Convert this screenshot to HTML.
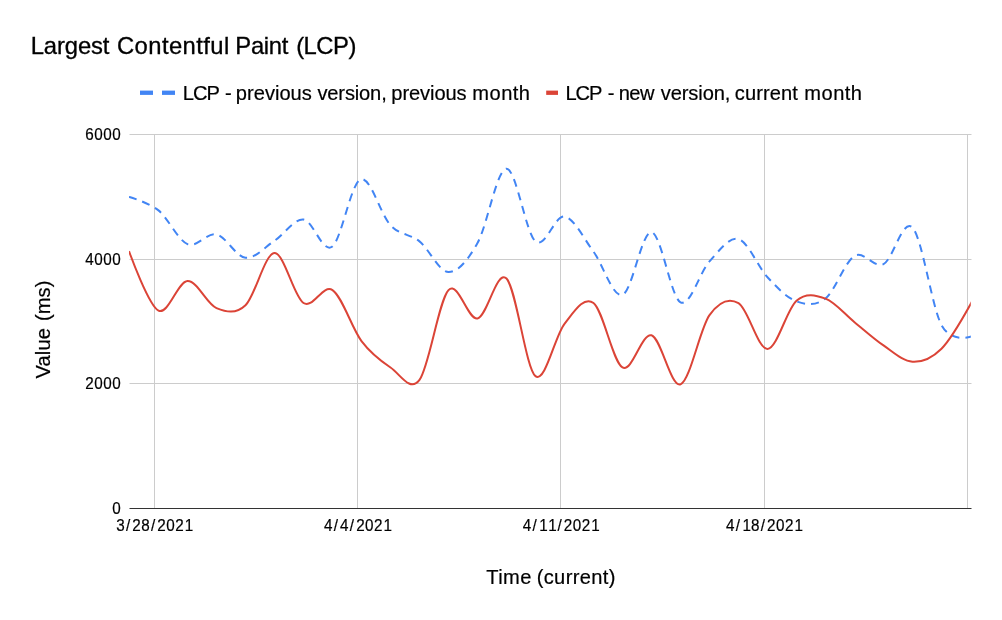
<!DOCTYPE html>
<html><head><meta charset="utf-8"><title>Largest Contentful Paint (LCP)</title>
<style>
html,body{margin:0;padding:0;background:#fff;}
body{width:1002px;height:620px;overflow:hidden;font-family:"Liberation Sans",sans-serif;}
svg{display:block;font-family:"Liberation Sans",sans-serif;will-change:transform;}
text{fill:#000;white-space:pre;stroke:#000;stroke-width:0.2px;}
text.t{stroke-width:0.32px;}
</style></head><body>
<svg width="1002" height="620" viewBox="0 0 1002 620">
<defs><clipPath id="c"><rect x="129" y="134" width="841.8" height="375"/></clipPath></defs>
<rect width="1002" height="620" fill="#fff"/>
<rect x="129.5" y="134" width="842" height="1" fill="#ccc"/>
<rect x="129.5" y="259" width="842" height="1" fill="#ccc"/>
<rect x="129.5" y="383" width="842" height="1" fill="#ccc"/>
<rect x="154" y="134" width="1" height="374" fill="#ccc"/>
<rect x="357" y="134" width="1" height="374" fill="#ccc"/>
<rect x="560" y="134" width="1" height="374" fill="#ccc"/>
<rect x="764" y="134" width="1" height="374" fill="#ccc"/>
<rect x="967" y="134" width="1" height="374" fill="#ccc"/>
<g clip-path="url(#c)"><path d="M129.00,196.88 L129.50,197.02C129.50,197.02 148.83,202.54 158.50,210.39C168.17,218.24 177.83,240.12 187.50,244.12C197.17,248.13 206.83,232.16 216.50,234.42C226.17,236.69 235.83,256.67 245.50,257.72C255.17,258.77 264.83,247.10 274.50,240.74C284.17,234.38 293.92,218.58 303.50,219.58C313.08,220.59 322.48,253.47 332.00,246.77C341.52,240.06 350.85,182.92 360.60,179.34C370.35,175.75 380.68,214.89 390.50,225.23C400.32,235.57 409.83,233.57 419.50,241.37C429.17,249.16 438.83,271.71 448.50,271.99C458.17,272.26 467.83,260.22 477.50,243.01C487.17,225.80 496.83,168.97 506.50,168.71C516.17,168.45 525.83,233.50 535.50,241.46C545.17,249.42 554.83,214.79 564.50,216.49C574.17,218.19 583.83,238.61 593.50,251.67C603.17,264.73 612.83,298.12 622.50,294.85C632.17,291.59 641.83,230.84 651.50,232.09C661.17,233.33 670.83,297.42 680.50,302.31C690.17,307.19 699.83,271.92 709.50,261.40C719.17,250.87 728.83,236.51 738.50,239.15C748.17,241.78 757.83,266.84 767.50,277.21C777.17,287.58 786.83,297.84 796.50,301.38C806.17,304.92 815.83,306.01 825.50,298.44C835.17,290.87 844.83,261.68 854.50,255.95C864.17,250.21 873.83,268.77 883.50,264.04C893.17,259.31 902.83,217.39 912.50,227.57C922.17,237.74 931.83,306.89 941.50,325.09C951.17,343.29 970.50,336.75 970.50,336.75L973.50,335.73" fill="none" stroke="#4285f4" stroke-width="2" stroke-dasharray="8.018 6.013" stroke-dashoffset="0"/>
<path d="M129.00,251.20 L129.50,252.57C129.50,252.57 148.83,305.83 158.50,310.58C168.17,315.32 177.83,281.47 187.50,281.06C197.17,280.65 206.83,304.07 216.50,308.09C226.17,312.12 235.83,314.38 245.50,305.22C255.17,296.06 264.83,253.49 274.50,253.12C284.17,252.74 293.83,296.81 303.50,302.97C313.17,309.13 322.83,283.74 332.50,290.09C342.17,296.45 351.83,328.21 361.50,341.11C371.17,354.00 380.83,361.01 390.50,367.47C400.17,373.93 409.83,392.77 419.50,379.88C429.17,366.99 438.83,300.38 448.50,290.15C458.17,279.93 467.83,320.48 477.50,318.53C487.17,316.57 496.83,268.85 506.50,278.45C516.17,288.04 525.83,368.56 535.50,376.11C545.17,383.67 554.83,335.97 564.50,323.78C574.17,311.59 583.83,295.70 593.50,302.98C603.17,310.26 612.83,362.08 622.50,367.46C632.17,372.85 641.83,332.48 651.50,335.29C661.17,338.10 670.83,387.71 680.50,384.34C690.17,380.98 699.83,328.61 709.50,315.08C719.17,301.55 728.83,297.55 738.50,303.18C748.17,308.82 757.83,349.30 767.50,348.89C777.17,348.48 786.83,309.08 796.50,300.70C806.17,292.33 815.83,295.06 825.50,298.64C835.17,302.21 844.83,314.36 854.50,322.16C864.17,329.95 873.83,338.82 883.50,345.41C893.17,352.00 902.83,361.16 912.50,361.71C922.17,362.25 931.83,358.24 941.50,348.67C951.17,339.09 970.50,304.27 970.50,304.27L973.50,298.87" fill="none" stroke="#db4437" stroke-width="2"/></g>
<rect x="129.5" y="508" width="842" height="1" fill="#333"/>
<text class="t" x="30.75" y="53.75" font-size="23.8" textLength="78.65" lengthAdjust="spacing">Largest</text>
<text class="t" x="117.00" y="53.75" font-size="23.8" textLength="112.20" lengthAdjust="spacing">Contentful</text>
<text class="t" x="235.35" y="53.75" font-size="23.8" textLength="53.05" lengthAdjust="spacing">Paint</text>
<text class="t" x="296.15" y="53.75" font-size="23.8" textLength="60.25" lengthAdjust="spacing">(LCP)</text>
<text x="182.80" y="100" font-size="20.1" textLength="37.20" lengthAdjust="spacing">LCP</text>
<text x="225.05" y="100" font-size="20.1">-</text>
<text x="235.85" y="100" font-size="20.1" textLength="76.00" lengthAdjust="spacing">previous</text>
<text x="317.40" y="100" font-size="20.1" textLength="69.35" lengthAdjust="spacing">version,</text>
<text x="391.35" y="100" font-size="20.1" textLength="75.30" lengthAdjust="spacing">previous</text>
<text x="472.35" y="100" font-size="20.1" textLength="57.60" lengthAdjust="spacing">month</text>
<text x="565.40" y="100" font-size="20.1" textLength="37.00" lengthAdjust="spacing">LCP</text>
<text x="607.85" y="100" font-size="20.1">-</text>
<text x="618.65" y="100" font-size="20.1" textLength="35.75" lengthAdjust="spacing">new</text>
<text x="660.70" y="100" font-size="20.1" textLength="69.75" lengthAdjust="spacing">version,</text>
<text x="734.85" y="100" font-size="20.1" textLength="63.05" lengthAdjust="spacing">current</text>
<text x="804.35" y="100" font-size="20.1" textLength="57.70" lengthAdjust="spacing">month</text>
<text x="486.25" y="583.7" font-size="20.1" textLength="45.20" lengthAdjust="spacing">Time</text>
<text x="536.65" y="583.7" font-size="20.1" textLength="78.80" lengthAdjust="spacing">(current)</text>
<text transform="translate(50,378.50) rotate(-90)" font-size="20.1" textLength="50.45" lengthAdjust="spacing">Value</text>
<text transform="translate(50,321.05) rotate(-90)" font-size="20.1" textLength="40.40" lengthAdjust="spacing">(ms)</text>
<text transform="scale(0.93,1)" x="125.02 135.43 142.29 151.94 162.36 169.22 178.86 188.51 198.54" y="531" font-size="16.4">3/28/2021</text>
<text transform="scale(0.93,1)" x="348.39 358.80 365.67 376.08 382.95 392.59 402.24 412.27" y="531" font-size="16.4">4/4/2021</text>
<text transform="scale(0.93,1)" x="562.11 572.53 579.78 589.42 599.45 606.32 615.96 625.61 635.64" y="531" font-size="16.4">4/11/2021</text>
<text transform="scale(0.93,1)" x="780.66 791.08 798.33 807.59 818.00 824.86 834.51 844.16 854.19" y="531" font-size="16.4">4/18/2021</text>
<text transform="scale(0.93,1)" x="91.68 101.32 110.97 120.61" y="140" font-size="16.4">6000</text>
<text transform="scale(0.93,1)" x="91.68 101.32 110.97 120.61" y="264.7" font-size="16.4">4000</text>
<text transform="scale(0.93,1)" x="91.68 101.32 110.97 120.61" y="389.3" font-size="16.4">2000</text>
<text transform="scale(0.93,1)" x="120.61" y="514" font-size="16.4">0</text>
<rect x="140" y="90.6" width="13" height="4.3" fill="#4285f4"/><rect x="162" y="90.6" width="13" height="4.3" fill="#4285f4"/>
<rect x="546.2" y="90.6" width="11.8" height="4.3" fill="#db4437"/>
</svg>
</body></html>
